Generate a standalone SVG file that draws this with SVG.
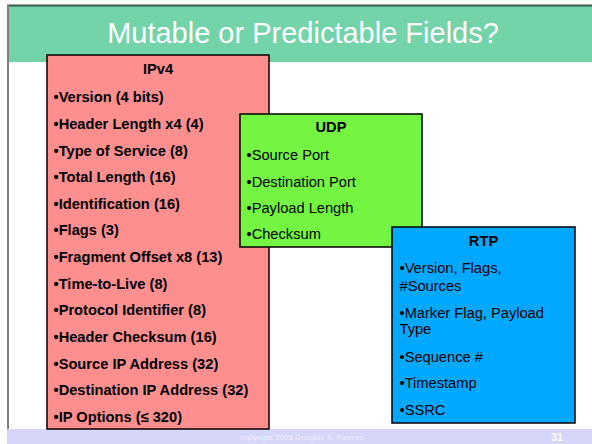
<svg xmlns="http://www.w3.org/2000/svg" width="592" height="444" viewBox="0 0 592 444">
<style>
  .box { stroke: #000; stroke-width: 1.5; }
  .hd { font-family: "Liberation Sans", Arial, sans-serif; font-size: 14.67px; font-weight: bold; fill: #000; text-anchor: middle; }
  .b { font-family: "Liberation Sans", Arial, sans-serif; font-size: 14.67px; font-weight: bold; fill: #000; }
  .r { font-family: "Liberation Sans", Arial, sans-serif; font-size: 14.67px; fill: #000; }
</style>
<rect x="0" y="0" width="592" height="444" fill="#fff"/>
<g id="slide-frame">
  <rect x="8" y="6" width="584" height="56" fill="#73D3A9"/>
  <line x1="7" y1="5.5" x2="592" y2="5.5" stroke="#355a4a" stroke-width="2"/>
  <line x1="8" y1="5" x2="8" y2="429" stroke="#7f7f7f" stroke-width="2"/>
  <rect x="7" y="429" width="585" height="15" fill="#D6D6FA"/>
  <text x="303" y="43" font-family="Liberation Sans, Arial, sans-serif" font-size="29" fill="#fff" text-anchor="middle">Mutable or Predictable Fields?</text>
  <text x="302" y="440" font-family="Liberation Sans, Arial, sans-serif" font-size="8" fill="#EDEDFF" text-anchor="middle">copyright 2005 Douglas S. Reeves</text>
  <text x="557" y="441" font-family="Liberation Sans, Arial, sans-serif" font-size="10.5" font-weight="bold" fill="#fff" text-anchor="middle">31</text>
</g>
<g id="ipv4">
  <rect class="box" x="47" y="55" width="222" height="374" fill="#FF8F8F"/>
  <text class="hd" x="158" y="74.3">IPv4</text>
  <text class="b" x="53.5" y="102.3">•Version (4 bits)</text>
  <text class="b" x="53.5" y="128.9">•Header Length x4 (4)</text>
  <text class="b" x="53.5" y="155.5">•Type of Service (8)</text>
  <text class="b" x="53.5" y="182.2">•Total Length (16)</text>
  <text class="b" x="53.5" y="208.8">•Identification (16)</text>
  <text class="b" x="53.5" y="235.4">•Flags (3)</text>
  <text class="b" x="53.5" y="262">•Fragment Offset x8 (13)</text>
  <text class="b" x="53.5" y="288.6">•Time-to-Live (8)</text>
  <text class="b" x="53.5" y="315.3">•Protocol Identifier (8)</text>
  <text class="b" x="53.5" y="341.9">•Header Checksum (16)</text>
  <text class="b" x="53.5" y="368.5">•Source IP Address (32)</text>
  <text class="b" x="53.5" y="395.1">•Destination IP Address (32)</text>
  <text class="b" x="53.5" y="421.7">•IP Options (≤ 320)</text>
</g>
<g id="udp">
  <rect class="box" x="240" y="114" width="182" height="133" fill="#73F542"/>
  <text class="hd" x="331" y="131.7">UDP</text>
  <text class="r" x="246.5" y="160">•Source Port</text>
  <text class="r" x="246.5" y="186.7">•Destination Port</text>
  <text class="r" x="246.5" y="213.3">•Payload Length</text>
  <text class="r" x="246.5" y="239">•Checksum</text>
</g>
<g id="rtp">
  <rect class="box" x="392" y="227" width="183" height="196" fill="#00A8FF"/>
  <text class="hd" x="483.5" y="246">RTP</text>
  <text class="r" x="399.5" y="273.3">•Version, Flags,</text>
  <text class="r" x="399.5" y="290.7">#Sources</text>
  <text class="r" x="399.5" y="317.7">•Marker Flag, Payload</text>
  <text class="r" x="399.5" y="334.3">Type</text>
  <text class="r" x="399.5" y="361.7">•Sequence #</text>
  <text class="r" x="399.5" y="388.3">•Timestamp</text>
  <text class="r" x="399.5" y="415">•SSRC</text>
</g>
<g id="connectors"/>
</svg>
